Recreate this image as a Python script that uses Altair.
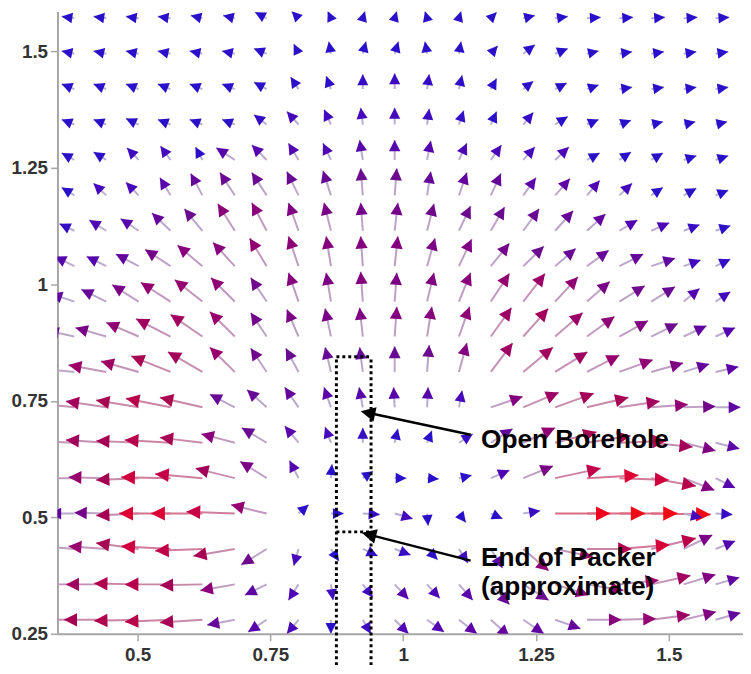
import math
import altair as alt
import pandas as pd

# ---------------- data ----------------
# grid of arrow tails (data units)
X_GRID = [0.381, 0.441, 0.502, 0.562, 0.622, 0.683, 0.743, 0.803, 0.864, 0.924, 0.984,
          1.045, 1.105, 1.165, 1.226, 1.286, 1.346, 1.407, 1.467, 1.528, 1.588]
Y_GRID = [1.571, 1.495, 1.419, 1.343, 1.267, 1.191, 1.115, 1.039, 0.963, 0.888, 0.812,
          0.736, 0.660, 0.584, 0.508, 0.432, 0.356, 0.280]   # top row first

# vector components in thousandths of a data unit, one list per row (top to bottom)
U_MILLI = [
    [-24, -24, -24, -24, -22, -22, -22, -13, -6, 4, 4, -4, 4, 11, 22, 24, 26, 26, 26, 26, 26],
    [-24, -24, -24, -24, -24, -24, -24, -9, -4, 6, 7, -4, 4, 13, 22, 24, 22, 24, 24, 24, 24],
    [-24, -24, -24, -24, -24, -24, -24, -15, -9, 0, 0, 4, 6, 11, 19, 22, 22, 24, 24, 24, 24],
    [-24, -24, -24, -24, -24, -24, -24, -22, -13, -4, 0, 4, 9, 11, 19, 24, 22, 22, 22, 22, 22],
    [-24, -24, -22, -19, -13, -35, -28, -19, -15, -6, 0, 7, 15, 20, 22, 26, 24, 22, 22, 24, 24],
    [-24, -24, -24, -20, -22, -28, -28, -22, -15, -4, 4, 7, 15, 19, 24, 28, 24, 24, 22, 24, 24],
    [-28, -32, -34, -35, -34, -32, -28, -19, -13, -4, 6, 13, 22, 26, 30, 34, 35, 34, 34, 30, 28],
    [-37, -37, -43, -48, -47, -41, -32, -19, -9, -4, 6, 15, 24, 35, 39, 39, 41, 45, 45, 32, 28],
    [-45, -47, -50, -56, -52, -45, -30, -19, -9, -4, 4, 13, 22, 35, 41, 43, 43, 48, 45, 30, 28],
    [-52, -58, -61, -65, -60, -47, -30, -22, -11, -6, 4, 9, 20, 39, 47, 52, 52, 54, 50, 43, 37],
    [-56, -71, -71, -74, -65, -47, -30, -24, -11, -6, 0, 4, 15, 41, 56, 61, 61, 63, 60, 48, 43],
    [-74, -76, -80, -84, -80, -47, -37, -26, -13, -7, -2, 2, 6, 60, 67, 73, 78, 76, 69, 60, 47],
    [-71, -76, -80, -86, -80, -63, -47, -26, -11, 0, 6, 9, 26, 41, 60, 78, 82, 88, 78, 60, 45],
    [-65, -71, -80, -93, -89, -74, -50, -17, 2, 19, 22, 22, 24, 35, 56, 86, 97, 93, 84, 58, 37],
    [-47, -60, -80, -97, -97, -91, -67, 19, 24, 32, 34, 2, 13, 22, 32, 104, 110, 110, 112, 35, 32],
    [-65, -71, -80, -93, -89, -78, -48, -9, 15, 28, 30, 20, 17, 22, 48, 71, 84, 95, 84, 54, 37],
    [-71, -76, -84, -86, -80, -65, -41, -19, 4, 19, 26, 24, 26, 35, 48, 63, 69, 74, 74, 60, 45],
    [-74, -80, -84, -86, -80, -52, -35, -22, 0, 15, 26, 32, 34, 35, 39, 48, 65, 69, 73, 61, 47],
]
V_MILLI = [
    [4, 4, 4, 4, 6, 6, 13, 15, 15, 15, 15, 15, 15, 13, 6, 4, 2, 2, 2, 2, 2],
    [6, 6, 6, 6, 6, 6, 11, 21, 26, 26, 26, 26, 26, 17, 19, 11, 6, 4, 4, 4, 4],
    [11, 11, 11, 11, 11, 11, 15, 26, 28, 32, 34, 32, 30, 23, 17, 13, 9, 4, 4, 4, 4],
    [11, 11, 13, 11, 11, 11, 21, 28, 32, 36, 36, 34, 30, 28, 26, 17, 11, 9, 6, 6, 6],
    [15, 17, 26, 30, 28, 26, 32, 36, 36, 43, 43, 41, 36, 32, 28, 28, 15, 17, 15, 9, 9],
    [17, 26, 28, 38, 47, 49, 49, 51, 53, 58, 58, 51, 49, 47, 38, 36, 32, 26, 17, 15, 11],
    [15, 23, 26, 38, 47, 58, 60, 60, 60, 60, 60, 58, 53, 51, 47, 43, 36, 23, 17, 13, 11],
    [21, 21, 26, 36, 45, 51, 60, 64, 64, 64, 64, 60, 58, 49, 43, 38, 34, 26, 17, 13, 15],
    [17, 26, 36, 41, 47, 51, 51, 62, 62, 64, 62, 62, 62, 60, 60, 53, 43, 34, 32, 28, 21],
    [13, 19, 30, 38, 47, 53, 51, 58, 60, 62, 64, 64, 64, 62, 60, 51, 43, 34, 28, 23, 19],
    [6, 15, 23, 34, 43, 53, 51, 51, 53, 53, 55, 58, 62, 62, 53, 43, 36, 26, 19, 17, 11],
    [9, 13, 15, 19, 21, 28, 38, 43, 43, 43, 43, 43, 36, 23, 32, 30, 21, 13, 6, 2, 0],
    [4, 6, 4, 6, 11, 19, 32, 36, 34, 32, 30, 26, 19, 30, 32, 23, 15, 4, -9, -17, -13],
    [0, 2, -4, 2, 9, 21, 36, 38, 30, 15, 0, -2, 6, 17, 26, 21, 6, -4, -17, -26, -21],
    [0, 2, -4, 0, 0, 4, 19, 19, 0, -2, -11, -26, -19, -11, 6, 0, 0, 0, -2, -9, -2],
    [6, 6, 13, 6, -4, -15, -34, -36, -26, -15, -13, -23, -30, -41, -47, -17, 0, 9, 23, 30, 17],
    [0, 0, 2, 0, -2, -13, -23, -34, -34, -28, -32, -30, -34, -43, -34, -23, -13, 9, 19, 21, 15],
    [0, 0, -2, -4, -6, -11, -26, -30, -30, -30, -30, -26, -30, -36, -30, -19, 0, 2, 11, 17, 15],
]

# borehole sketch (dotted) and annotations
BORE_X = [0.8743, 0.9395]
BORE_TOP = 0.8445
PACKER_Y = 0.4687
BORE_BOTTOM = 0.17

LABELS = ["Open Borehole", "End of Packer", "(approximate)"]
LABEL_X = [1.1465, 1.1465, 1.1465]
LABEL_Y = [0.649, 0.3965, 0.333]
POINTER_FROM_X = [1.127, 1.127]
POINTER_FROM_Y = [0.677, 0.407]
POINTER_TO_X = [0.919, 0.921]
POINTER_TO_Y = [0.728, 0.467]

X_TICKS = [0.5, 0.75, 1, 1.25, 1.5]
Y_TICKS = [0.25, 0.5, 0.75, 1, 1.25, 1.5]

MAG_STOPS = [0.03, 0.058, 0.082, 0.105]
HEAD_COLORS = ["#2a10c8", "#6a0c8e", "#a80c50", "#f00a18"]
SHAFT_COLORS = ["#b8b0d4", "#bca4c8", "#c888a8", "#dc6a82"]

# ---------------- layout ----------------
XMIN, XMAX = 0.3492, 1.6397
YMIN, YMAX = 0.25, 1.5855
W, H = 693, 629
KX = W / (XMAX - XMIN)
KY = H / (YMAX - YMIN)
TRI = "M0,-1L1,1L-1,1Z"
FONT = "Liberation Sans"

recs = []
for k, yv in enumerate(Y_GRID):
    for i, xv in enumerate(X_GRID):
        u = U_MILLI[k][i] / 1000.0
        v = V_MILLI[k][i] / 1000.0
        px, py = u * KX, v * KY
        L = math.hypot(px, py) or 1e-9
        r = 4.9 + 0.042 * L
        hx, hy = xv + u, yv + v
        recs.append({
            "x": xv, "y": yv, "hx": hx, "hy": hy,
            "cx": hx - (px / L) * r / KX,
            "cy": hy - (py / L) * r / KY,
            "angle": math.degrees(math.atan2(px, py)) % 360,
            "size": 4 * r * r,
            "mag": math.hypot(u, v),
        })
quiver = pd.DataFrame(recs)

bore = pd.DataFrame({
    "x": [BORE_X[0], BORE_X[1], BORE_X[0], BORE_X[0]],
    "x2": [BORE_X[0], BORE_X[1], BORE_X[1], BORE_X[1]],
    "y": [BORE_BOTTOM, BORE_BOTTOM, BORE_TOP, PACKER_Y],
    "y2": [BORE_TOP, BORE_TOP, BORE_TOP, PACKER_Y],
})

prec = []
for fx, fy, tx, ty in zip(POINTER_FROM_X, POINTER_FROM_Y, POINTER_TO_X, POINTER_TO_Y):
    px, py = (tx - fx) * KX, (ty - fy) * KY
    L = math.hypot(px, py)
    r = 8.0
    prec.append({
        "x": fx, "y": fy, "x2": tx, "y2": ty,
        "cx": tx - (px / L) * r / KX, "cy": ty - (py / L) * r / KY,
        "angle": math.degrees(math.atan2(px, py)) % 360, "size": 3.4 * r * r,
    })
pointers = pd.DataFrame(prec)
texts = pd.DataFrame({"x": LABEL_X, "y": LABEL_Y, "label": LABELS})

xs = alt.Scale(domain=[XMIN, XMAX], nice=False, zero=False)
ys = alt.Scale(domain=[YMIN, YMAX], nice=False, zero=False)
axis_common = dict(grid=False, title=None, format=".3~g", labelFont=FONT, labelFontSize=19,
                   labelFontWeight="bold", labelColor="#333333", domainColor="#a6a6a6",
                   domainWidth=2, tickColor="#a6a6a6", tickWidth=1.5, tickSize=7,
                   labelFlush=False, labelOverlap=False)
xaxis = alt.Axis(values=X_TICKS, labelPadding=5, **axis_common)
yaxis = alt.Axis(values=Y_TICKS, labelPadding=3, **axis_common)

shafts = alt.Chart(quiver).mark_rule(clip=True, strokeWidth=2).encode(
    x=alt.X("x:Q", scale=xs, axis=xaxis),
    y=alt.Y("y:Q", scale=ys, axis=yaxis),
    x2=alt.X2("hx:Q"),
    y2=alt.Y2("hy:Q"),
    color=alt.Color("mag:Q", scale=alt.Scale(domain=MAG_STOPS, range=SHAFT_COLORS, clamp=True), legend=None),
)

heads = alt.Chart(quiver).mark_point(shape=TRI, filled=True, clip=True, opacity=1, strokeWidth=0).encode(
    x=alt.X("cx:Q", scale=xs, title=None),
    y=alt.Y("cy:Q", scale=ys, title=None),
    angle=alt.Angle("angle:Q", scale=None),
    size=alt.Size("size:Q", scale=None),
    color=alt.Color("mag:Q", scale=alt.Scale(domain=MAG_STOPS, range=HEAD_COLORS, clamp=True), legend=None),
)

bore_lines = alt.Chart(bore).mark_rule(clip=False, color="black", strokeWidth=3, strokeDash=[3, 3]).encode(
    x=alt.X("x:Q", scale=xs, title=None),
    y=alt.Y("y:Q", scale=ys, title=None),
    x2=alt.X2("x2:Q"),
    y2=alt.Y2("y2:Q"),
)

pointer_lines = alt.Chart(pointers).mark_rule(color="black", strokeWidth=2.5).encode(
    x=alt.X("x:Q", scale=xs, title=None),
    y=alt.Y("y:Q", scale=ys, title=None),
    x2=alt.X2("cx:Q"),
    y2=alt.Y2("cy:Q"),
)

pointer_heads = alt.Chart(pointers).mark_point(shape=TRI, filled=True, color="black", opacity=1, strokeWidth=0).encode(
    x=alt.X("cx:Q", scale=xs, title=None),
    y=alt.Y("cy:Q", scale=ys, title=None),
    angle=alt.Angle("angle:Q", scale=None),
    size=alt.Size("size:Q", scale=None),
)

labels = alt.Chart(texts).mark_text(align="left", baseline="alphabetic", font=FONT, fontSize=26.5,
                                    fontWeight="bold", color="black").encode(
    x=alt.X("x:Q", scale=xs, title=None),
    y=alt.Y("y:Q", scale=ys, title=None),
    text="label:N",
)

chart = alt.layer(shafts, heads, bore_lines, pointer_lines, pointer_heads, labels).resolve_scale(
    color="independent"
).properties(
    width=W, height=H,
    padding={"left": 50, "top": 0, "right": 0, "bottom": 29},
    autosize=alt.AutoSizeParams(type="none"),
).configure_view(stroke=None)

chart.save("out.html", embed_options={"renderer": "svg", "actions": False})
